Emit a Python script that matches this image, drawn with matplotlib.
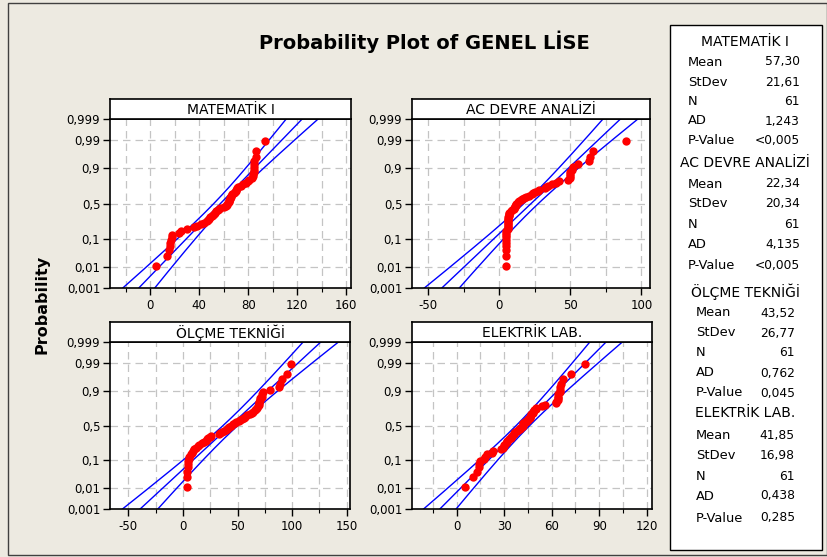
import matplotlib.pyplot as plt
import numpy as np
from statistics import NormalDist
from matplotlib.patches import Rectangle

plt.rcParams['font.family'] = 'DejaVu Sans'
plt.rcParams['axes.unicode_minus'] = False

# ---- data ----
titles = ["MATEMATİK I", "AC DEVRE ANALİZİ", "ÖLÇME TEKNİĞİ", "ELEKTRİK LAB."]
means = [57.30, 22.34, 43.52, 41.85]
stdevs = [21.61, 20.34, 26.77, 16.98]
n_obs = [61, 61, 61, 61]
ad_stats = ["1,243", "4,135", "0,762", "0,438"]
p_values = ["<0,005", "<0,005", "0,045", "0,285"]

matematik = [5, 14, 15, 16, 16, 17, 18, 18, 23, 25, 30, 36, 38, 41, 44, 46, 47,
             48, 49, 50, 51, 52, 53, 54, 55, 56, 57, 60, 62, 63, 63, 64, 64, 64,
             65, 65, 66, 66, 67, 68, 69, 70, 70, 71, 72, 74, 76, 78, 80, 81, 83,
             84, 84, 85, 85, 85, 85, 85, 86, 86, 94]
ac_devre = [5, 5, 5, 5, 5, 5, 5, 5, 5, 5, 6, 6, 6, 6, 6, 6, 6,
            6, 6, 7, 7, 7, 7, 8, 9, 10, 10, 11, 11, 12, 12, 13, 14, 15,
            16, 17, 19, 21, 23, 24, 25, 27, 28, 32, 33, 34, 37, 40, 42,
            48, 50, 50, 50, 50, 51, 52, 55, 63, 64, 66, 89]
olcme = [4, 4, 4, 5, 5, 5, 6, 6, 7, 8, 9, 10, 12, 14, 15, 17, 19, 21,
         22, 23, 25, 26, 33, 34, 36, 38, 39, 40, 41, 42, 44, 46, 48, 49,
         51, 52, 54, 56, 57, 59, 61, 63, 64, 66, 67, 68, 69, 70, 70, 70,
         71, 71, 72, 72, 73, 80, 88, 89, 91, 95, 99]
elektrik = [5, 10, 13, 14, 14, 15, 17, 18, 19, 22, 23, 28, 29, 30, 30, 31, 32,
            32, 33, 34, 34, 35, 36, 36, 37, 38, 39, 40, 40, 41, 42, 42, 42,
            44, 44, 45, 45, 46, 46, 47, 47, 48, 48, 49, 50, 50, 54, 56, 63,
            63, 64, 64, 64, 64, 65, 65, 65, 66, 67, 72, 81]
series = [matematik, ac_devre, olcme, elektrik]

x_limits = [(-33, 164), (-61.5, 106), (-66.8, 153), (-28.2, 123.3)]
x_ticks = [[0, 40, 80, 120, 160], [-50, 0, 50, 100],
           [-50, 0, 50, 100, 150], [0, 30, 60, 90, 120]]
x_steps = [20, 25, 25, 15]
prob_ticks = [0.001, 0.01, 0.1, 0.5, 0.9, 0.99, 0.999]
prob_labels = ["0,001", "0,01", "0,1", "0,5", "0,9", "0,99", "0,999"]

W, H = 827, 557
BG = "#EDEAE1"
nd = NormalDist()


def p_to_z(p):
    p = np.clip(np.asarray(p, float), 1e-9, 1 - 1e-9)
    return np.vectorize(nd.inv_cdf, otypes=[float])(p)


def z_to_p(z):
    return np.vectorize(nd.cdf, otypes=[float])(np.asarray(z, float))


def fig_box(x0, y0, x1, y1):
    # pixel box (top-left origin) -> figure fraction rect
    return [x0 / W, 1 - y1 / H, (x1 - x0) / W, (y1 - y0) / H]


fig = plt.figure(figsize=(W / 100, H / 100), dpi=100)
fig.patch.set_facecolor(BG)

# outer frame
fig.patches.append(Rectangle((8 / W, 1 - 555 / H), (W - 8) / W, (555 - 3) / H,
                             transform=fig.transFigure, fill=False,
                             edgecolor="#404040", linewidth=1.0))

fig.text(424 / W, 1 - 42 / H, "Probability Plot of GENEL LİSE",
         ha="center", va="center", fontsize=14, fontweight="bold")
fig.text(42 / W, 1 - 304 / H, "Probability", rotation=90,
         ha="center", va="center", fontsize=11.5, fontweight="bold")

panel_px = [(110, 119, 351, 288), (412, 119, 650, 288),
            (110, 342, 350, 509), (412, 342, 652, 509)]

for k in range(4):
    x0, y0, x1, y1 = panel_px[k]
    ax = fig.add_axes(fig_box(x0, y0, x1, y1))
    ax.set_facecolor("white")
    ax.set_yscale("function", functions=(p_to_z, z_to_p))
    ax.set_ylim(0.001, 0.999)
    ax.set_xlim(*x_limits[k])

    # grid
    step = x_steps[k]
    gx = np.arange(np.ceil(x_limits[k][0] / step) * step, x_limits[k][1], step)
    for g in gx:
        ax.axvline(g, color="#C4C4C4", linewidth=0.9, linestyle=(0, (6, 4)), zorder=0)
    for g in prob_ticks[1:-1]:
        ax.axhline(g, color="#C4C4C4", linewidth=0.9, linestyle=(0, (6, 4)), zorder=0)

    # fitted line with 95% confidence bands
    m, s, n = means[k], stdevs[k], n_obs[k]
    z = np.linspace(-3.6, 3.6, 200)
    p = z_to_p(z)
    half = 1.96 * s * np.sqrt((1 + z ** 2 / 2) / n)
    ax.plot(m + s * z, p, color="#0000FF", linewidth=1.0, zorder=2)
    ax.plot(m + s * z - half, p, color="#0000FF", linewidth=1.0, zorder=2)
    ax.plot(m + s * z + half, p, color="#0000FF", linewidth=1.0, zorder=2)

    vals = np.sort(np.array(series[k], float))
    ranks = np.arange(1, len(vals) + 1)
    pp = (ranks - 0.3) / (len(vals) + 0.4)
    ax.plot(vals, pp, "o", color="#FF0000", markersize=6,
            markeredgewidth=0, zorder=3)

    ax.set_xticks(x_ticks[k])
    ax.set_xticks(gx, minor=True)
    ax.set_yticks(prob_ticks)
    ax.set_yticklabels(prob_labels)
    ax.yaxis.set_minor_locator(plt.NullLocator())
    ax.tick_params(axis="both", which="major", length=5, width=1,
                   labelsize=8.5, direction="out", pad=2)
    ax.tick_params(axis="x", which="minor", length=3, width=0.8, direction="out")
    ax.tick_params(axis="x", which="major", pad=3)
    for sp in ax.spines.values():
        sp.set_linewidth(1.2)
        sp.set_color("black")

    # title strip
    sx = fig.add_axes(fig_box(x0, y0 - 20, x1, y0))
    sx.set_xticks([])
    sx.set_yticks([])
    sx.set_facecolor("white")
    for sp in sx.spines.values():
        sp.set_linewidth(1.2)
    sx.text(0.5, 0.45, titles[k], ha="center", va="center", fontsize=10,
            transform=sx.transAxes)

# legend box
fig.patches.append(Rectangle((670 / W, 1 - 550 / H), 152 / W, 525 / H,
                             transform=fig.transFigure, facecolor="white",
                             edgecolor="black", linewidth=1.0))

header_y = [41.5, 163, 292, 413]
row_y = [[62, 82, 101.5, 121, 140.5], [184, 204, 224.5, 244.5, 265.5],
         [313, 333, 353, 373, 393], [435.5, 455.5, 476, 496, 518]]
label_x = [688, 688, 696, 696]
value_x = [800, 800, 795, 795]
row_names = ["Mean", "StDev", "N", "AD", "P-Value"]
for k in range(4):
    fig.text(745 / W, 1 - header_y[k] / H, titles[k], ha="center", va="center",
             fontsize=10)
    row_vals = [f"{means[k]:.2f}".replace(".", ","),
                f"{stdevs[k]:.2f}".replace(".", ","),
                str(n_obs[k]), ad_stats[k], p_values[k]]
    for name, val, yy in zip(row_names, row_vals, row_y[k]):
        fig.text(label_x[k] / W, 1 - yy / H, name, ha="left", va="center",
                 fontsize=9.4)
        fig.text(value_x[k] / W, 1 - yy / H, val, ha="right", va="center",
                 fontsize=8.8)

fig.savefig("out.png", dpi=100, facecolor=BG)
